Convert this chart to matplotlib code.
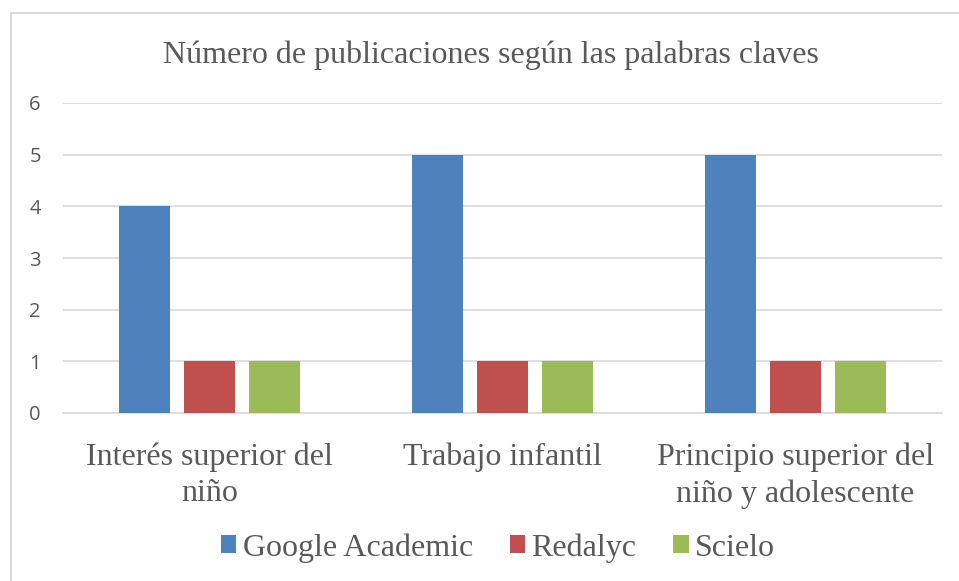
import numpy as np
import matplotlib
matplotlib.use("Agg")
import matplotlib.pyplot as plt
from matplotlib.lines import Line2D

# --- data ---
categories = ["Interés superior del\nniño", "Trabajo infantil",
              "Principio superior del\nniño y adolescente"]
series_names = ["Google Academic", "Redalyc", "Scielo"]
google = [4, 5, 5]
redalyc = [1, 1, 1]
scielo = [1, 1, 1]
y_ticks = [0, 1, 2, 3, 4, 5, 6]
title = "Número de publicaciones según las palabras claves"

colors = ["#4F81BD", "#C0504D", "#9BBB59"]
serif = ["Liberation Serif", "DejaVu Serif"]
text_col = "#595959"

W, H = 959, 581
fig = plt.figure(figsize=(W / 100, H / 100), dpi=100)

# chart frame (cropped: only top and left edges visible)
fig.add_artist(Line2D([11 / W, 11 / W], [0, 1 - 13 / H], transform=fig.transFigure,
                      color="#D9D9D9", lw=1.5))
fig.add_artist(Line2D([11 / W, 1], [1 - 13 / H, 1 - 13 / H], transform=fig.transFigure,
                      color="#D9D9D9", lw=1.5))

left, right = 63 / W, 942 / W
bottom, top = 1 - 413 / H, 1 - 103 / H
ax = fig.add_axes([left, bottom, right - left, top - bottom])

x = np.arange(len(categories))
bw = 0.174
step = 0.222
for i, (vals, c, name) in enumerate(zip([google, redalyc, scielo], colors, series_names)):
    ax.bar(x + (i - 1) * step, vals, width=bw, color=c, label=name, zorder=3)

ax.set_xlim(-0.5, len(categories) - 0.5)
ax.set_ylim(0, 6)
ax.set_yticks(y_ticks)
ax.yaxis.grid(True, color="#D9D9D9", lw=1.2, zorder=0)
for s in ["top", "right", "left"]:
    ax.spines[s].set_visible(False)
ax.spines["bottom"].set_color("#D9D9D9")
ax.spines["bottom"].set_linewidth(1.2)
ax.tick_params(axis="both", length=0)
ax.tick_params(axis="y", labelsize=14.5, labelcolor=text_col, pad=16)
for lab in ax.get_yticklabels():
    lab.set_family(["Open Sans", "DejaVu Sans"])
ax.set_xticks(x)
ax.set_xticklabels(categories, fontsize=23, color=text_col, family=serif,
                   linespacing=1.35)
ax.tick_params(axis="x", pad=21)

fig.text(491 / W, 1 - 55 / H, title, ha="center", va="center", fontsize=23,
         color=text_col, family=serif)

leg = fig.legend(loc="center", bbox_to_anchor=(498 / W, 1 - 548 / H), ncol=3,
                 frameon=False, prop={"family": serif, "size": 23},
                 handlelength=0.48, handleheight=0.48, handletextpad=0.2,
                 columnspacing=1.15)
for t in leg.get_texts():
    t.set_color(text_col)

fig.savefig("out.png", dpi=100)
